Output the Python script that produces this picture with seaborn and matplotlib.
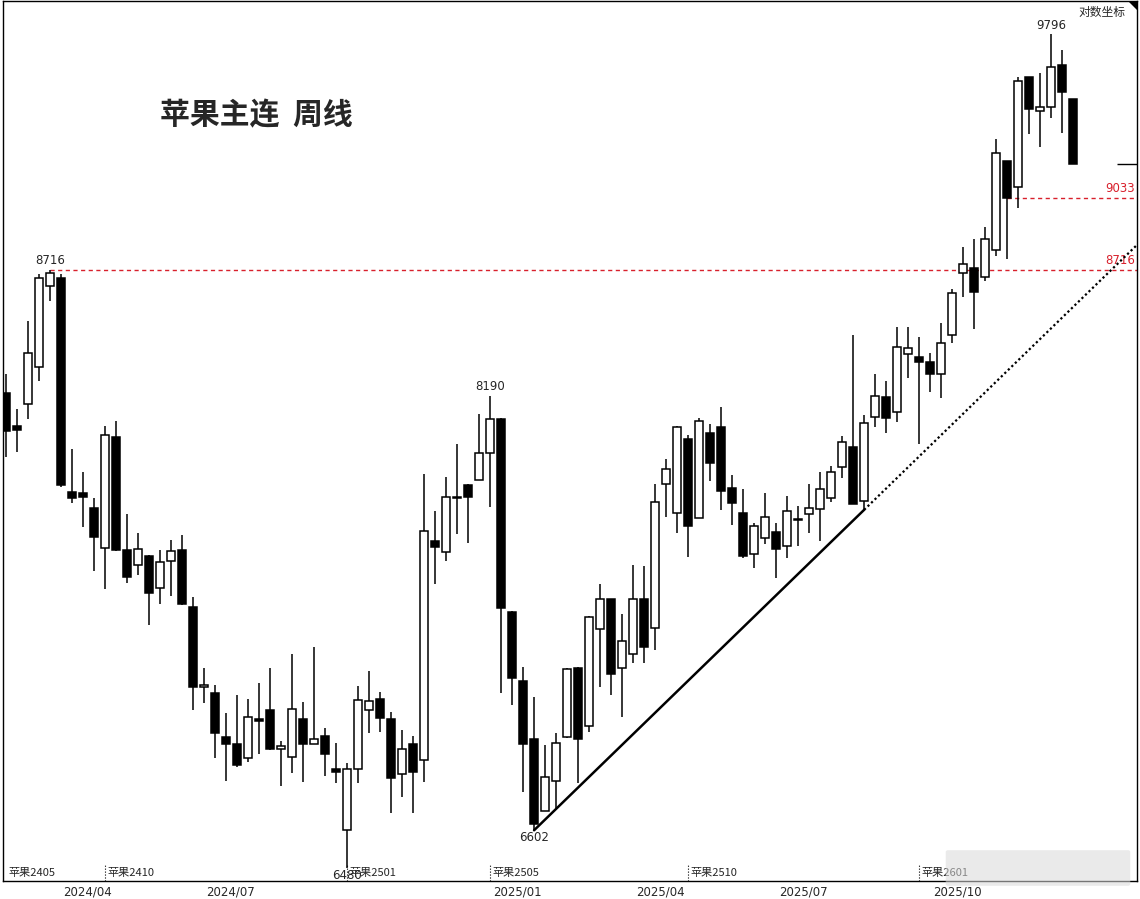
import numpy as np
import pandas as pd
import matplotlib
matplotlib.use("Agg")
import matplotlib.pyplot as plt
import matplotlib.transforms as mtrans
from matplotlib.patches import Polygon, FancyBboxPatch
import seaborn as sns

# weekly OHLC, apple main continuous
opens = [8200, 8068, 8156, 8307, 8647, 8682, 7808, 7804, 7746, 7594,
         8024, 7586, 7530, 7564, 7445, 7545, 7586, 7375, 7089, 7068,
         6915, 6891, 6843, 6977, 7008, 6873, 6846, 6977, 6891, 6918,
         6807, 6604, 6807, 7008, 7047, 6977, 6789, 6891, 6836, 7620,
         7578, 7789, 7836, 7855, 7960, 8096, 7357, 7110, 6908, 6666,
         6766, 6915, 7156, 6953, 7295, 7404, 7156, 7205, 7404, 7298,
         7840, 7727, 8016, 7708, 8040, 8064, 7824, 7727, 7571, 7632,
         7655, 7601, 7703, 7724, 7743, 7785, 7906, 7984, 7773, 8104,
         8184, 8124, 8360, 8348, 8328, 8279, 8440, 8703, 8725, 8686,
         8803, 9200, 9083, 9590, 9431, 9450, 9648, 9487]
highs = [8280, 8136, 8499, 8699, 8716, 8699, 7976, 7886, 7785, 8068,
         8088, 7724, 7651, 7568, 7586, 7624, 7643, 7411, 7156, 7096,
         6998, 7061, 7047, 7103, 7156, 6901, 7205, 7036, 7230, 6946,
         6894, 6827, 7092, 7145, 7071, 7001, 6939, 6918, 7878, 7735,
         7867, 7996, 7840, 8116, 8190, 8100, 7360, 7159, 7054, 6887,
         6929, 7156, 7158, 7342, 7460, 7406, 7349, 7530, 7526, 7840,
         7937, 8066, 8032, 8100, 8076, 8144, 7875, 7820, 7690, 7804,
         7690, 7793, 7754, 7840, 7886, 7910, 8028, 8440, 8112, 8279,
         8250, 8474, 8474, 8432, 8365, 8491, 8634, 8816, 8851, 8904,
         9301, 9202, 9590, 9592, 9609, 9796, 9720, 9489]
lows = [7945, 7964, 8096, 8250, 8583, 7828, 7766, 7674, 7508, 7441,
        7582, 7464, 7493, 7309, 7386, 7415, 7384, 7008, 7033, 6843,
        6766, 6813, 6830, 6856, 6870, 6749, 6793, 6762, 6889, 6783,
        6759, 6480, 6759, 6929, 6932, 6659, 6712, 6659, 6762, 7460,
        7545, 7647, 7612, 7853, 7750, 7068, 7026, 6729, 6602, 6664,
        6676, 6911, 6759, 6932, 7089, 7061, 6984, 7173, 7173, 7219,
        7712, 7651, 7560, 7706, 7851, 7739, 7682, 7556, 7519, 7609,
        7482, 7556, 7601, 7651, 7620, 7770, 7863, 7760, 7739, 8064,
        8040, 8084, 8262, 7996, 8205, 8180, 8406, 8600, 8466, 8669,
        8777, 8764, 8989, 9324, 9264, 9398, 9329, 9186]
closes = [8048, 8052, 8365, 8682, 8703, 7836, 7785, 7789, 7636, 8032,
          7586, 7486, 7590, 7426, 7541, 7582, 7386, 7089, 7096, 6929,
          6891, 6820, 6984, 6970, 6873, 6884, 7012, 6891, 6908, 6856,
          6796, 6807, 7043, 7040, 6980, 6776, 6873, 6796, 7659, 7597,
          7789, 7786, 7789, 7960, 8096, 7371, 7121, 6891, 6623, 6779,
          6894, 7152, 6908, 7338, 7404, 7135, 7252, 7404, 7230, 7769,
          7898, 8064, 7678, 8088, 7921, 7812, 7766, 7564, 7678, 7712,
          7590, 7735, 7699, 7746, 7820, 7886, 8004, 7762, 8080, 8188,
          8100, 8390, 8386, 8328, 8279, 8406, 8617, 8742, 8621, 8851,
          9236, 9033, 9571, 9440, 9450, 9638, 9520, 9186]

month_labels = ["2024/04", "2024/07", "2025/01", "2025/04", "2025/07", "2025/10"]
contracts = ["苹果2405", "苹果2410", "苹果2501", "苹果2505", "苹果2510", "苹果2601"]
roll_weeks = [0, 9, 31, 44, 62, 83]
high_marks = [4, 44, 95]
low_marks = [31, 48]
levels = [8716, 9033]
level_from = [4, 91]
trend_from, trend_to = 48, 78

df = pd.DataFrame({"open": opens, "high": highs, "low": lows, "close": closes})
df["x"] = np.arange(len(df))
# week dated by its last trading day (national holiday week ends in Sept)
weeks = pd.date_range("2024-02-16", periods=len(df), freq="W-FRI")
df["date"] = [pd.Timestamp("2025-09-30") if d == pd.Timestamp("2025-10-03") else d for d in weeks]
df["month"] = df["date"].dt.strftime("%Y/%m")
up = df[df.close >= df.open]
dn = df[df.close < df.open]

sns.set_style("white")
plt.rcParams["font.family"] = ["DejaVu Sans", "Noto Sans CJK SC"]
cjk = ["Noto Sans CJK SC", "DejaVu Sans"]

fig = plt.figure(figsize=(11.4, 8.99), dpi=100)
ax = fig.add_axes([3 / 1140, 18 / 899, 1134 / 1140, 880 / 899])
ax.set_yscale("log")

ax.vlines(df.x, df.low, df.high, color="black", lw=1.1, zorder=2)
ax.bar(up.x, up.close - up.open, bottom=up.open, width=0.76,
       facecolor="white", edgecolor="black", lw=1.1, zorder=3)
ax.bar(dn.x, dn.open - dn.close, bottom=dn.close, width=0.76,
       facecolor="black", edgecolor="black", lw=1.1, zorder=3)

xmin, xmax = -0.27, 102.8
ax.set_xlim(xmin, xmax)
ax.set_ylim(6438, 9960)

# trend line through the two lows, dotted extension to the right edge
x0, x1 = trend_from, trend_to
y0, y1 = lows[x0], lows[x1]
k = (np.log(y1) - np.log(y0)) / (x1 - x0)
sns.lineplot(x=[x0, x1], y=[y0, y1], ax=ax, color="black", lw=1.8, zorder=4)
ax.plot([x1, xmax], [y1, np.exp(np.log(y1) + k * (xmax - x1))], color="black",
        lw=1.6, linestyle=(0, (1, 1.2)), zorder=4)

# horizontal levels
right = mtrans.blended_transform_factory(ax.transAxes, ax.transData)
for lv, start in zip(levels, level_from):
    ax.hlines(lv, start, xmax, color="#d8202c", lw=1, linestyles=(0, (3, 2.5)), zorder=1)
    ax.text(0.998, lv * 1.0015, str(lv), transform=right, ha="right", va="bottom",
            color="#d8202c", fontsize=8.5)

# last close marker on right edge
ax.hlines(closes[-1], 0.982, 1.0, transform=right, color="black", lw=1)

for i in high_marks:
    ax.annotate(str(highs[i]), (i, highs[i]), xytext=(0, 2), textcoords="offset points",
                ha="center", va="bottom", fontsize=8.5)
for i in low_marks:
    ax.annotate(str(lows[i]), (i, lows[i]), xytext=(0, -0.5), textcoords="offset points",
                ha="center", va="top", fontsize=8.5)

# contract roll labels along the bottom
bottom = mtrans.blended_transform_factory(ax.transData, ax.transAxes)
for w, name in zip(roll_weeks, contracts):
    if w > 0:
        ax.vlines(w, 0, 0.018, transform=bottom, color="black", lw=0.8, linestyles=":")
    ax.text(w + 0.25, 0.0095, name, transform=bottom, ha="left", va="center",
            fontsize=8, family=cjk, zorder=5)

# month labels at the first week of each month shown
ticks = [df.index[df.month == m][0] + 0.45 for m in month_labels]
ax.set_xticks(ticks)
ax.set_xticklabels(month_labels, fontsize=8.5)
ax.tick_params(axis="x", length=0, pad=3)
ax.set_yticks([])
ax.yaxis.set_minor_locator(matplotlib.ticker.NullLocator())
ax.set_xlabel("")
ax.set_ylabel("")
for s in ax.spines.values():
    s.set_visible(True)
    s.set_color("black")
    s.set_linewidth(1)

fig.text(160 / 1140, 1 - 115 / 899, "苹果主连  周线", family=cjk, fontsize=21.5,
         fontweight="bold", va="center", ha="left")
fig.text(1125 / 1140, 1 - 12 / 899, "对数坐标", family=cjk, fontsize=8.5,
         va="center", ha="right")
fig.patches.append(Polygon([[1128 / 1140, 1 - 1 / 899], [1137 / 1140, 1 - 1 / 899],
                            [1137 / 1140, 1 - 10 / 899]], closed=True,
                           transform=fig.transFigure, facecolor="black", edgecolor="none"))
# blurred watermark
fig.patches.append(FancyBboxPatch((948 / 1140, 15 / 899), 180 / 1140, 32 / 899,
                                  boxstyle="round,pad=0.002", transform=fig.transFigure,
                                  facecolor="#d9d9d9", edgecolor="none", alpha=0.55, zorder=10))

fig.savefig("out.png", dpi=100, facecolor="white")
